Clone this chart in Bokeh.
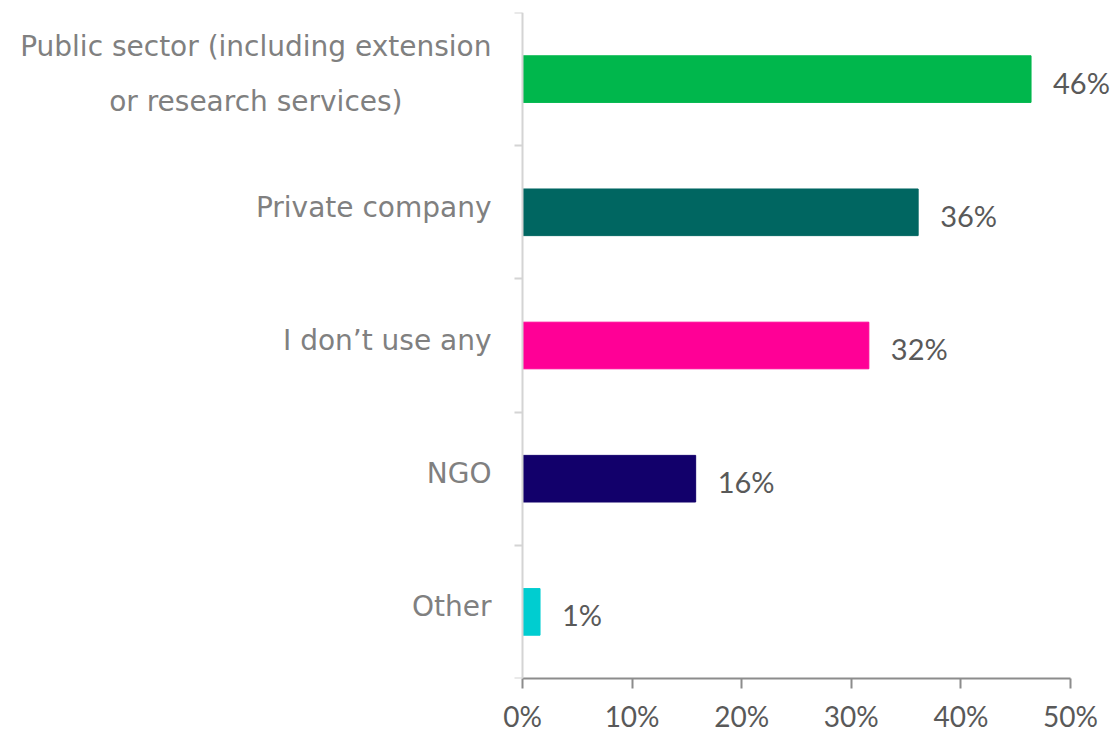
from bokeh.plotting import figure
from bokeh.models import ColumnDataSource, FixedTicker, Range1d, LinearAxis
from bokeh.core.properties import value
from bokeh.embed import file_html
from bokeh.resources import INLINE

categories = ["Public sector (including extension\nor research services)",
              "Private company", "I don\u2019t use any", "NGO", "Other"]
values = [46.4, 36.1, 31.6, 15.8, 1.6]
value_labels = ["46%", "36%", "32%", "16%", "1%"]
colors = ["#00b74c", "#006661", "#ff0096", "#12006b", "#00cdd0"]
x_ticks = [0, 10, 20, 30, 40, 50]
x_tick_labels = ["0%", "10%", "20%", "30%", "40%", "50%"]

n = len(categories)
ypos = [n - i - 0.5 for i in range(n)]

src = ColumnDataSource(dict(y=ypos, v=values, lab=value_labels, c=colors,
                            cat=categories, zero=[0] * n))

# frame spans the full width; 0% sits at px 522 and 50% at px 1070
px_per_unit = (1070 - 522) / 50.0
x_start = -522 / px_per_unit
x_end = (1112 - 522) / px_per_unit

p = figure(width=1112, height=740, output_backend="svg", toolbar_location=None,
           x_range=Range1d(x_start, x_end), y_range=Range1d(0, n),
           y_axis_location=None,
           min_border_left=0, min_border_right=0, min_border_top=12,
           min_border_bottom=62)
p.outline_line_color = None
p.grid.visible = False
p.background_fill_color = "white"

p.hbar(y="y", right="v", left=0, height=0.35, color="c", source=src)

p.text(x="v", y="y", text="lab", source=src, x_offset=22, y_offset=3,
       text_font=value("Lato"), text_font_size="29px", text_color="#595959",
       text_align="left", text_baseline="middle")

p.text(x="zero", y="y", text="cat", source=src, x_offset=-31, y_offset=-5,
       anchor="center_right", text_align="center",
       text_font=value("DejaVu Sans"), text_font_size="28px",
       text_color="#808080", text_line_height=1.66)

xa = p.xaxis[0]
xa.ticker = FixedTicker(ticks=x_ticks)
xa.bounds = (0, 50)
xa.major_label_overrides = {t: l for t, l in zip(x_ticks, x_tick_labels)}
xa.axis_line_color = "#8c8c8c"
xa.axis_line_width = 2
xa.major_tick_line_color = "#8c8c8c"
xa.major_tick_line_width = 2
xa.major_tick_out = 10
xa.major_tick_in = 0
xa.minor_tick_line_color = None
xa.major_label_text_font = "Lato"
xa.major_label_text_font_size = "28px"
xa.major_label_text_color = "#595959"
xa.major_label_standoff = 10

ya = LinearAxis(fixed_location=0)
ya.ticker = FixedTicker(ticks=list(range(n + 1)))
ya.major_label_text_alpha = 0
ya.major_label_text_font_size = "1px"
ya.major_label_standoff = 0
ya.axis_line_color = "#d4d4d4"
ya.axis_line_width = 2
ya.major_tick_line_color = "#d4d4d4"
ya.major_tick_line_width = 2
ya.major_tick_out = 8
ya.major_tick_in = 0
ya.minor_tick_line_color = None
p.add_layout(ya, "left")

open("out.html", "w").write(file_html(p, INLINE))
